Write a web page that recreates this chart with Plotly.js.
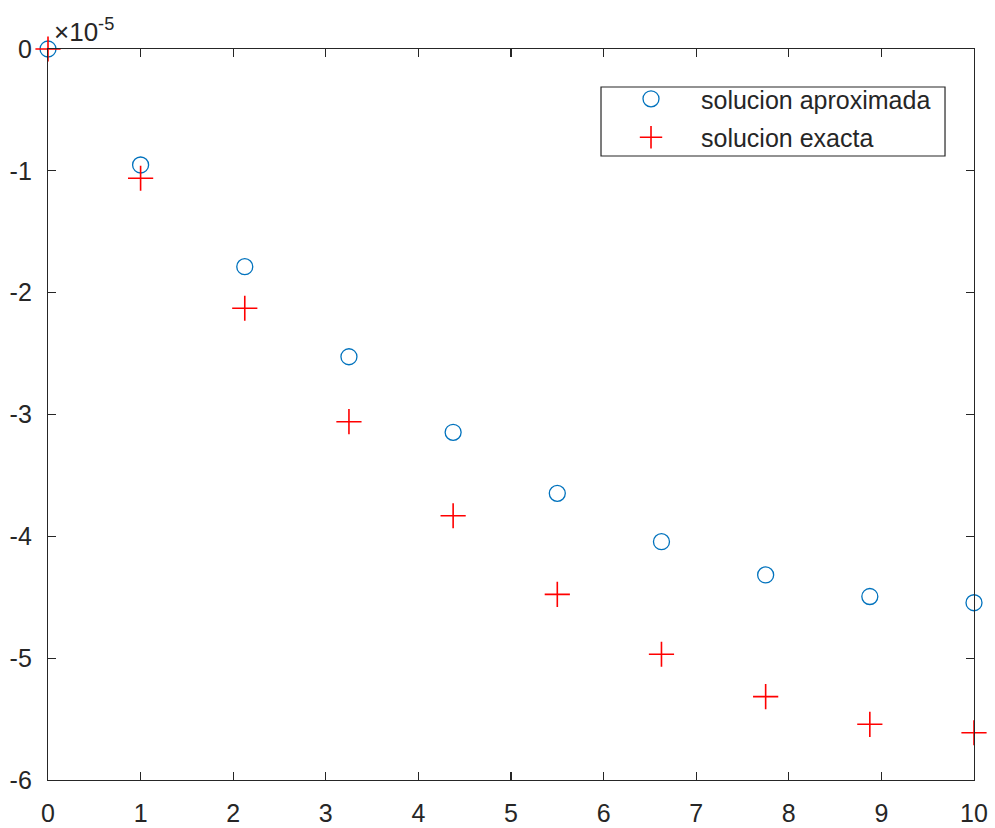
<!DOCTYPE html>
<html>
<head>
<meta charset="utf-8">
<script src="https://cdn.plot.ly/plotly-3.0.1.min.js"></script>
<style>html,body{margin:0;padding:0;background:#fff;}#chart{width:995px;height:828px;}</style>
</head>
<body>
<div id="chart"></div>
<script>
// x positions of the nodes
const xNodes = [0, 1, 2.125, 3.25, 4.375, 5.5, 6.625, 7.75, 8.875, 10];
// values shown in units of 1e-5
const approxVals = [0, -0.952, -1.787, -2.526, -3.146, -3.647, -4.044, -4.317, -4.494, -4.545];
const exactVals  = [0, -1.061, -2.128, -3.059, -3.831, -4.476, -4.968, -5.316, -5.543, -5.612];
const exponent = -5;
const seriesNames = ['solucion aproximada', 'solucion exacta'];
const xTicks = [0, 1, 2, 3, 4, 5, 6, 7, 8, 9, 10];
const yTickLabels = ['-6', '-5', '-4', '-3', '-2', '-1', '0'];

const scale = Math.pow(10, exponent);
const yTickVals = yTickLabels.map(t => Number(t) * scale);

const fontFam = '"Liberation Sans", Arial, Helvetica, sans-serif';
const axCol = '#262626';

const traces = [
  {
    x: xNodes, y: approxVals.map(v => v * scale), name: seriesNames[0], legendgroup: 'a',
    type: 'scatter', mode: 'markers', cliponaxis: false,
    marker: {symbol: 'circle-open', size: 16, color: '#0072BD', line: {width: 1.3, color: '#0072BD'}}
  },
  {
    x: xNodes, y: exactVals.map(v => v * scale), name: seriesNames[1], legendgroup: 'b',
    type: 'scatter', mode: 'markers', cliponaxis: false,
    marker: {symbol: 'cross-thin-open', size: 18, color: '#FF0000', line: {width: 1.6, color: '#FF0000'}}
  }
];

const axisCommon = {
  showgrid: false, zeroline: false, showline: true, linecolor: axCol, linewidth: 1.2,
  mirror: 'ticks', ticks: 'inside', ticklen: 8, tickwidth: 1.2, tickcolor: axCol,
  tickfont: {family: fontFam, size: 25, color: axCol}
};

const layout = {
  width: 995, height: 828,
  margin: {l: 48, r: 21, t: 49, b: 48},
  paper_bgcolor: '#ffffff', plot_bgcolor: '#ffffff',
  showlegend: true,
  xaxis: Object.assign({}, axisCommon, {
    range: [0, 10], tickmode: 'array', tickvals: xTicks, ticktext: xTicks.map(String),
    ticklabelstandoff: 11
  }),
  yaxis: Object.assign({}, axisCommon, {
    range: [-6 * scale, 0], tickmode: 'array', tickvals: yTickVals, ticktext: yTickLabels,
    ticklabelstandoff: 10
  }),
  legend: {
    x: 0.5972, xanchor: 'left', y: 0.963, yanchor: 'top',
    bgcolor: 'rgba(0,0,0,0)', borderwidth: 0,
    font: {family: fontFam, size: 25, color: axCol},
    itemwidth: 90, tracegroupgap: 3
  },
  shapes: [{
    type: 'rect', xref: 'paper', yref: 'paper', layer: 'above',
    x0: 0.5972, x1: 0.9687, y0: 0.8536, y1: 0.948,
    fillcolor: '#ffffff', line: {color: axCol, width: 1.2}
  }],
  annotations: [{
    xref: 'paper', yref: 'paper', x: 0.004, y: 1, xanchor: 'left', yanchor: 'bottom',
    text: '×10<sup>' + exponent + '</sup>', showarrow: false,
    font: {family: fontFam, size: 26, color: axCol}
  }]
};

Plotly.newPlot('chart', traces, layout, {displayModeBar: false, staticPlot: true});
</script>
</body>
</html>
